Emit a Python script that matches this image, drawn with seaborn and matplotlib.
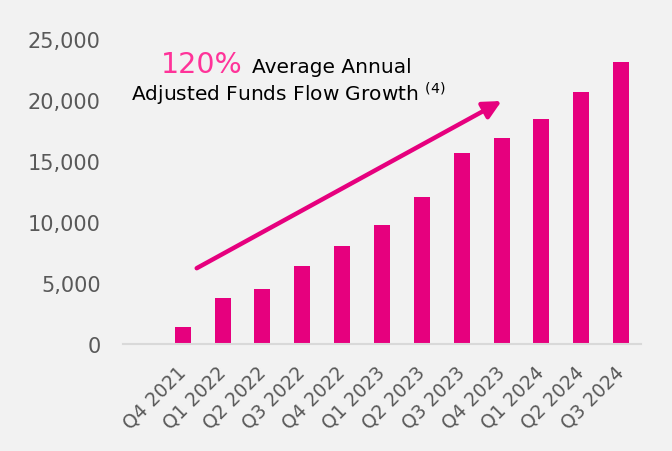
import matplotlib
matplotlib.use("Agg")
import matplotlib.pyplot as plt
import matplotlib.ticker as mticker
import seaborn as sns

# data
quarters = ["Q4 2021", "Q1 2022", "Q2 2022", "Q3 2022", "Q4 2022", "Q1 2023",
            "Q2 2023", "Q3 2023", "Q4 2023", "Q1 2024", "Q2 2024", "Q3 2024"]
funds_flow = [1400, 3800, 4500, 6400, 8000, 9700,
              12000, 15600, 16900, 18400, 20600, 23100]
y_ticks = [0, 5000, 10000, 15000, 20000, 25000]

bar_color = "#E6007E"
bg = "#F2F2F2"

sns.set_theme(style="white")
plt.rcParams["font.family"] = ["DejaVu Sans"]

fig = plt.figure(figsize=(6.72, 4.52), dpi=100, facecolor=bg)
ax = fig.add_axes([0.183, 0.237, 0.771, 0.675], facecolor=bg)

sns.barplot(x=quarters, y=funds_flow, color=bar_color, width=0.4,
            saturation=1, linewidth=0, ax=ax)

ax.set_xlim(-1.5, 11.5)
ax.set_ylim(0, 25000)
ax.set_yticks(y_ticks)
ax.yaxis.set_major_formatter(mticker.StrMethodFormatter("{x:,.0f}"))
ax.set_xlabel("")
ax.set_ylabel("")

for s in ["top", "right", "left"]:
    ax.spines[s].set_visible(False)
ax.spines["bottom"].set_color("#D9D9D9")
ax.spines["bottom"].set_linewidth(1.5)

ax.tick_params(axis="y", length=0, pad=16, labelsize=15, labelcolor="#595959")
ax.tick_params(axis="x", length=0, pad=18, labelsize=13.5, labelcolor="#595959")
for lbl in ax.get_xticklabels():
    lbl.set_rotation(45)
    lbl.set_ha("right")
    lbl.set_va("center")
    lbl.set_rotation_mode("anchor")

# growth arrow
ax.annotate("", xy=(8.0, 19900), xytext=(0.35, 6200),
            arrowprops=dict(arrowstyle="-|>,head_length=0.9,head_width=0.45",
                            color=bar_color, lw=3.2, shrinkA=0, shrinkB=0))

# annotation text
fig.text(243 / 672, 1 - 73 / 452, "120%", color="#FF3399", fontsize=20.5,
         ha="right", va="baseline")
fig.text(252 / 672, 1 - 73 / 452, "Average Annual", color="black", fontsize=14.5,
         ha="left", va="baseline")
fig.text(288 / 672, 1 - 102 / 452,
         r"Adjusted Funds Flow Growth $^{\mathregular{(4)}}$",
         color="black", fontsize=14.5, ha="center", va="baseline")

fig.savefig("out.png", dpi=100, facecolor=bg)
